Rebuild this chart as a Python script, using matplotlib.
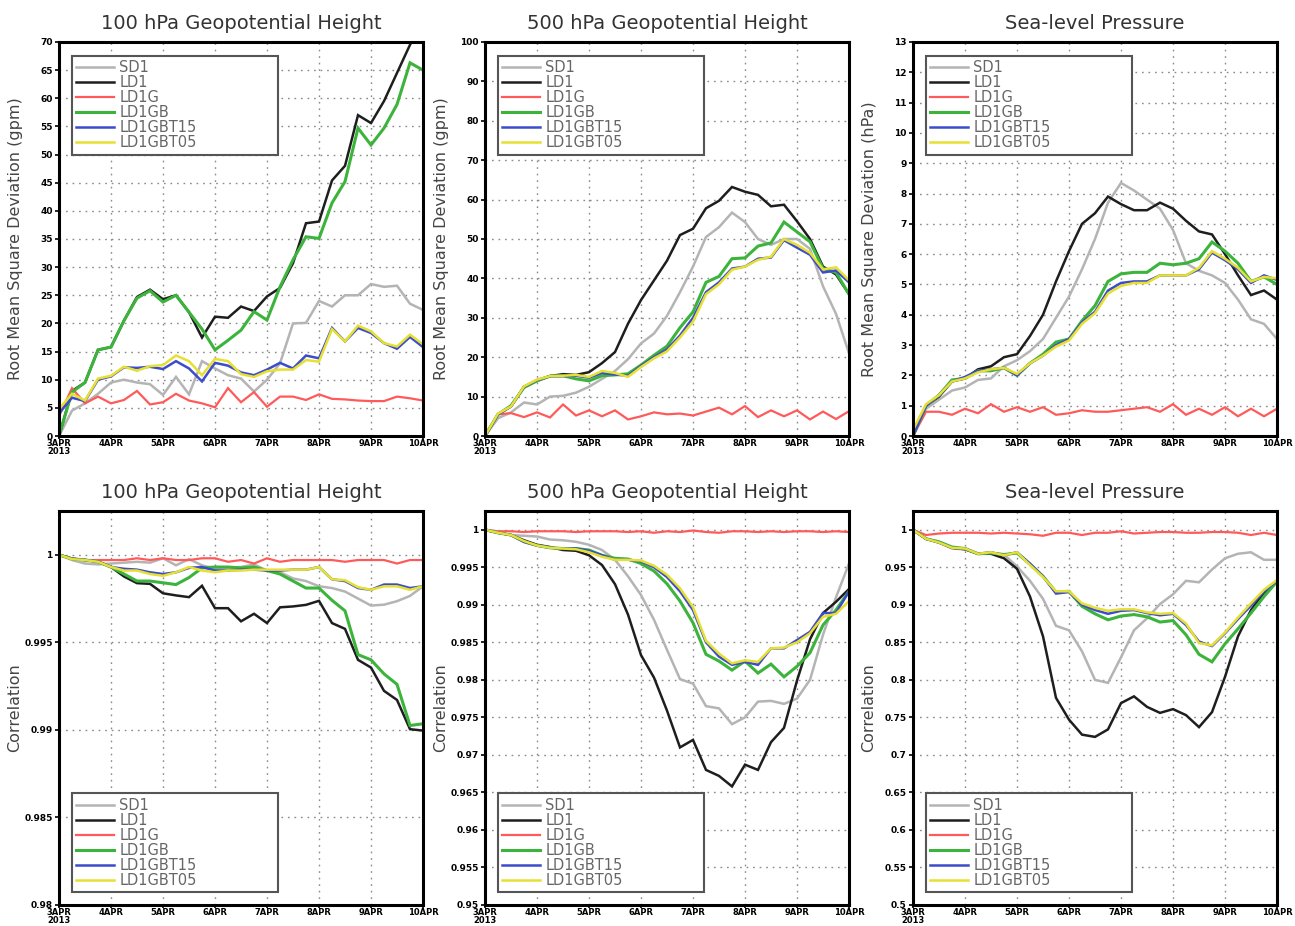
import numpy as np
import pandas as pd
import matplotlib
matplotlib.use("Agg")
import matplotlib.pyplot as plt
import matplotlib.dates as mdates
from matplotlib.ticker import FuncFormatter, MultipleLocator

# 6-hourly verification times, 3 Apr 00Z .. 10 Apr 00Z 2013
times = pd.date_range("2013-04-03 00:00", "2013-04-10 00:00", freq="6h")

experiments = ["SD1", "LD1", "LD1G", "LD1GB", "LD1GBT15", "LD1GBT05"]
colors = {"SD1": "#b4b4b4", "LD1": "#1e1e1e", "LD1G": "#ff5a5a",
          "LD1GB": "#3cb43c", "LD1GBT15": "#3c4ccc", "LD1GBT05": "#e6e032"}
widths = {"SD1": 1.8, "LD1": 1.8, "LD1G": 1.6, "LD1GB": 2.2,
          "LD1GBT15": 1.8, "LD1GBT05": 1.8}

# RMSD, 100 hPa geopotential height (gpm)
rms_z100 = {
    "SD1": [0, 4.5, 5.8, 7.5, 9.5, 10, 9.5, 9.2, 7.3, 10.5, 7.4, 13.3, 12, 10.8, 10.2,
            7.9, 10, 12.9, 20, 20.1, 24, 23, 25, 25, 27, 26.5, 26.7, 23.5, 22.4],
    "LD1": [0, 8, 9.5, 15.3, 15.8, 20.5, 24.7, 26, 24.3, 25, 22, 17.5, 21.2, 21, 23,
            22.2, 24.8, 26.3, 30.7, 37.8, 38.1, 45.4, 48, 57, 55.6, 59.5, 64.5, 69.5, 74],
    "LD1G": [3.5, 8.5, 5.8, 7, 5.8, 6.4, 8, 5.6, 6, 7.5, 6.3, 5.8, 5.1, 8.5, 6, 7.8,
             5.2, 7, 7, 6.4, 7.4, 6.6, 6.5, 6.3, 6.2, 6.2, 7, 6.7, 6.3],
    "LD1GB": [0, 7.8, 9.5, 15.3, 15.8, 20.5, 24.5, 25.8, 23.8, 25, 22, 19, 15.3, 17,
              18.8, 22.1, 20.6, 26.5, 31.3, 35.4, 35.1, 41.4, 45.2, 54.7, 51.7, 54.7,
              58.9, 66.3, 65],
    "LD1GBT15": [4, 6.8, 6.2, 10, 10.6, 12.2, 12.1, 12.3, 11.9, 13.3, 12, 9.7, 13, 12.5,
                 11.3, 10.8, 11.8, 13, 12, 14.3, 13.8, 19.2, 16.8, 19.2, 18.3, 16.5,
                 15.5, 17.6, 15.8],
    "LD1GBT05": [4.8, 7.5, 6.3, 10.2, 10.7, 12.3, 11.6, 12.4, 12.6, 14.3, 13.3, 10.8,
                 13.7, 13.3, 11.0, 10.5, 11.5, 11.8, 11.8, 13.5, 13.2, 19.0, 16.8, 19.6,
                 18.6, 16.5, 15.9, 18.0, 16.3],
}

# RMSD, 500 hPa geopotential height (gpm)
rms_z500 = {
    "SD1": [0, 4.5, 6, 8.5, 8, 10, 10.2, 11, 12.5, 14.5, 16.5, 19.5, 23.5, 26, 30.5,
            36.5, 43, 50.5, 53, 56.7, 54.3, 50, 48.5, 50, 50, 47.5, 38, 31, 21],
    "LD1": [0, 5.5, 7.5, 12.5, 14, 15.2, 15.7, 15.5, 16.2, 18.5, 21.3, 28.5, 34.5,
            39.5, 44.5, 51, 52.6, 57.8, 59.7, 63.2, 62, 61.2, 58.3, 58.7, 54.5, 50,
            43, 41, 36],
    "LD1G": [0, 5.5, 5.8, 4.8, 6, 4.7, 8, 5.2, 6.5, 5, 6.5, 4.2, 5, 6, 5.5, 5.7, 5.2,
             6.2, 7.2, 5.5, 7.6, 4.8, 6.5, 5, 6.5, 4.2, 6.2, 4.3, 6.3],
    "LD1GB": [0, 5.5, 7.7, 12.3, 14, 15.2, 15.3, 14.5, 14, 15.3, 15.5, 15.8, 18, 20.5,
              22.8, 27.5, 31.5, 39, 40.5, 45, 45.2, 48.2, 49, 54.3, 51.8, 49.3, 42.5,
              41.5, 36],
    "LD1GBT15": [0, 5.5, 7.5, 12.5, 14.2, 15.2, 15.2, 15.3, 14.8, 16, 15.6, 15.3, 17.8,
                 20, 22, 25.5, 30, 36.5, 39, 42.5, 43, 45, 45.3, 49.7, 47.8, 46, 41.5,
                 42, 39],
    "LD1GBT05": [0, 5.7, 7.5, 12.6, 14.3, 15.2, 15.3, 15.5, 15, 16.5, 16, 15, 17.5,
                 19.7, 21.5, 25, 29, 36, 38.5, 42.2, 43, 44.7, 45.5, 50, 48.5, 46.5,
                 42.3, 42.8, 39.5],
}

# RMSD, sea-level pressure (hPa)
rms_slp = {
    "SD1": [0.1, 0.9, 1.2, 1.5, 1.6, 1.85, 1.9, 2.3, 2.5, 2.8, 3.2, 3.9, 4.6, 5.5, 6.5,
            7.7, 8.35, 8.1, 7.8, 7.5, 6.8, 5.7, 5.45, 5.3, 5.05, 4.5, 3.85, 3.7, 3.2],
    "LD1": [0, 1.0, 1.3, 1.8, 1.9, 2.2, 2.3, 2.6, 2.7, 3.3, 4.0, 5.1, 6.1, 7.0, 7.35,
            7.9, 7.65, 7.45, 7.45, 7.7, 7.5, 7.1, 6.75, 6.65, 6.0, 5.3, 4.65, 4.8, 4.5],
    "LD1G": [0, 0.8, 0.8, 0.7, 0.9, 0.75, 1.05, 0.8, 0.95, 0.8, 0.95, 0.7, 0.75, 0.85,
             0.8, 0.8, 0.85, 0.9, 0.95, 0.8, 1.05, 0.7, 0.9, 0.7, 0.95, 0.65, 0.9, 0.65, 0.9],
    "LD1GB": [0, 1.0, 1.35, 1.85, 1.9, 2.15, 2.15, 2.25, 2.0, 2.4, 2.7, 3.1, 3.2, 3.8,
              4.3, 5.1, 5.35, 5.4, 5.4, 5.7, 5.65, 5.7, 5.85, 6.4, 6.1, 5.7, 5.1, 5.25, 5.0],
    "LD1GBT15": [0, 1.0, 1.35, 1.8, 1.95, 2.15, 2.2, 2.25, 2.0, 2.4, 2.65, 3.0, 3.2,
                 3.75, 4.1, 4.8, 5.05, 5.1, 5.1, 5.3, 5.3, 5.3, 5.5, 6.05, 5.8, 5.5,
                 5.05, 5.3, 5.15],
    "LD1GBT05": [0.2, 1.05, 1.35, 1.8, 1.9, 2.1, 2.2, 2.25, 2.05, 2.4, 2.65, 2.95,
                 3.15, 3.7, 4.05, 4.7, 4.95, 5.05, 5.05, 5.3, 5.3, 5.3, 5.55, 6.1, 5.85,
                 5.55, 5.1, 5.25, 5.2],
}

# anomaly correlation, 100 hPa geopotential height
cor_z100 = {
    "SD1": [1.0, 0.9997, 0.9995, 0.99945, 0.9995, 0.99955, 0.9996, 0.99955, 0.9998,
            0.9994, 0.99975, 0.9994, 0.9992, 0.99925, 0.9993, 0.99945, 0.9991, 0.9990,
            0.99865, 0.9985, 0.9982, 0.9981, 0.9979, 0.9975, 0.9971, 0.99715, 0.99735,
            0.99765, 0.9982],
    "LD1": [1.0, 0.99977, 0.99971, 0.9996, 0.9993, 0.99876, 0.99838, 0.99834, 0.9978,
            0.99768, 0.99758, 0.99823, 0.99695, 0.99695, 0.9962, 0.99663, 0.9961, 0.9970,
            0.99705, 0.99714, 0.99737, 0.9961, 0.99577, 0.9940, 0.99356, 0.99223,
            0.99171, 0.99004, 0.98996],
    "LD1G": [1.0, 0.9998, 0.9997, 0.9997, 0.9997, 0.9997, 0.9998, 0.9997, 0.9998,
             0.9997, 0.9997, 0.9998, 0.9998, 0.9996, 0.9997, 0.9995, 0.9998, 0.9996,
             0.9997, 0.9997, 0.9997, 0.9997, 0.9996, 0.9997, 0.9997, 0.9997, 0.9995,
             0.9997, 0.9997],
    "LD1GB": [1.0, 0.99977, 0.9997, 0.9996, 0.9993, 0.9989, 0.9985, 0.9985, 0.9984,
              0.9983, 0.9987, 0.99925, 0.9993, 0.9993, 0.99925, 0.9993, 0.9991, 0.9989,
              0.9985, 0.9981, 0.9981, 0.9974, 0.9968, 0.9943, 0.9940, 0.9932, 0.9926,
              0.99025, 0.99035],
    "LD1GBT15": [1.0, 0.99977, 0.9997, 0.99962, 0.9993, 0.9992, 0.99915, 0.9990, 0.9989,
                 0.9990, 0.99925, 0.9993, 0.9991, 0.9991, 0.99915, 0.99915, 0.9991,
                 0.9991, 0.99915, 0.99915, 0.9993, 0.9986, 0.9985, 0.9981, 0.9980,
                 0.9983, 0.9983, 0.9981, 0.9982],
    "LD1GBT05": [1.0, 0.99975, 0.9997, 0.9996, 0.9993, 0.9991, 0.9991, 0.9989, 0.9988,
                 0.9990, 0.9993, 0.9991, 0.9990, 0.9991, 0.9991, 0.99915, 0.99915,
                 0.99915, 0.99915, 0.99915, 0.9993, 0.9986, 0.99855, 0.99815, 0.9980,
                 0.9982, 0.9982, 0.9980, 0.9982],
}

# anomaly correlation, 500 hPa geopotential height
cor_z500 = {
    "SD1": [1.0, 0.9996, 0.9993, 0.9992, 0.9991, 0.9987, 0.9986, 0.9984, 0.9980,
            0.9973, 0.9960, 0.9938, 0.9913, 0.9880, 0.9840, 0.9801, 0.9795, 0.9765,
            0.9762, 0.9741, 0.9750, 0.9771, 0.9772, 0.9768, 0.9775, 0.9800, 0.9860,
            0.9910, 0.9955],
    "LD1": [1.0, 0.9996, 0.9993, 0.9986, 0.9980, 0.9977, 0.9973, 0.9972, 0.9966,
            0.9953, 0.99275, 0.9887, 0.9833, 0.9803, 0.9759, 0.9710, 0.9720, 0.9680,
            0.9672, 0.9658, 0.9687, 0.9680, 0.9717, 0.9736, 0.9799, 0.9854, 0.9889,
            0.9904, 0.9921],
    "LD1G": [1.0, 0.9998, 0.9998, 0.9997, 0.9998, 0.9998, 0.9998, 0.9997, 0.9998,
             0.9998, 0.9998, 0.9997, 0.9998, 0.9996, 0.9998, 0.9997, 0.9999, 0.9997,
             0.9996, 0.9998, 0.9998, 0.9997, 0.9998, 0.9997, 0.9998, 0.9998, 0.9997,
             0.9998, 0.9997],
    "LD1GB": [1.0, 0.9996, 0.9993, 0.9984, 0.9979, 0.9976, 0.9975, 0.9975, 0.9973,
              0.9966, 0.9962, 0.9961, 0.9955, 0.9945, 0.9928, 0.9905, 0.9876, 0.9834,
              0.9825, 0.9813, 0.9825, 0.9809, 0.9821, 0.9804, 0.9818, 0.9836, 0.9873,
              0.9893, 0.9918],
    "LD1GBT15": [1.0, 0.9996, 0.9993, 0.9984, 0.9979, 0.9976, 0.9975, 0.9975, 0.9972,
                 0.9966, 0.9960, 0.9960, 0.9958, 0.9950, 0.9937, 0.9918, 0.9893, 0.9850,
                 0.9831, 0.9820, 0.9824, 0.9820, 0.9842, 0.9842, 0.9853, 0.9864, 0.9889,
                 0.9889, 0.9918],
    "LD1GBT05": [1.0, 0.9996, 0.9993, 0.9985, 0.9979, 0.9976, 0.9975, 0.9974, 0.9970,
                 0.9964, 0.9960, 0.9960, 0.9959, 0.9952, 0.9940, 0.9922, 0.9897, 0.9852,
                 0.9835, 0.9822, 0.9826, 0.9824, 0.9842, 0.9843, 0.9850, 0.9862, 0.9884,
                 0.9888, 0.9905],
}

# anomaly correlation, sea-level pressure
cor_slp = {
    "SD1": [1.0, 0.988, 0.983, 0.975, 0.974, 0.968, 0.968, 0.967, 0.951, 0.932, 0.908,
            0.872, 0.866, 0.838, 0.800, 0.796, 0.830, 0.866, 0.882, 0.901, 0.914, 0.932,
            0.930, 0.947, 0.962, 0.968, 0.970, 0.960, 0.960],
    "LD1": [1.0, 0.988, 0.983, 0.976, 0.974, 0.968, 0.968, 0.962, 0.948, 0.911, 0.858,
            0.776, 0.747, 0.727, 0.724, 0.734, 0.769, 0.778, 0.764, 0.756, 0.761, 0.753,
            0.737, 0.757, 0.804, 0.858, 0.893, 0.916, 0.931],
    "LD1G": [1.0, 0.993, 0.995, 0.996, 0.996, 0.996, 0.995, 0.996, 0.995, 0.994, 0.992,
             0.996, 0.996, 0.993, 0.996, 0.996, 0.998, 0.995, 0.996, 0.997, 0.997, 0.996,
             0.996, 0.997, 0.997, 0.996, 0.993, 0.996, 0.993],
    "LD1GB": [1.0, 0.988, 0.984, 0.977, 0.975, 0.968, 0.969, 0.967, 0.969, 0.954, 0.938,
              0.917, 0.918, 0.898, 0.888, 0.880, 0.885, 0.887, 0.884, 0.877, 0.879, 0.860,
              0.834, 0.824, 0.848, 0.868, 0.889, 0.911, 0.931],
    "LD1GBT15": [1.0, 0.988, 0.983, 0.976, 0.975, 0.968, 0.970, 0.966, 0.970, 0.955,
                 0.938, 0.915, 0.917, 0.900, 0.893, 0.888, 0.892, 0.893, 0.889, 0.886,
                 0.888, 0.873, 0.851, 0.845, 0.862, 0.881, 0.899, 0.918, 0.932],
    "LD1GBT05": [1.0, 0.988, 0.983, 0.976, 0.975, 0.968, 0.970, 0.966, 0.970, 0.953,
                 0.937, 0.918, 0.918, 0.902, 0.896, 0.892, 0.894, 0.894, 0.890, 0.888,
                 0.889, 0.875, 0.849, 0.846, 0.863, 0.883, 0.902, 0.920, 0.933],
}

titles = ["100 hPa Geopotential Height", "500 hPa Geopotential Height", "Sea-level Pressure"]

# panel: data, ylim, tick step, y label
panels = [
    (rms_z100, (0, 70), 5, "Root Mean Square Deviation (gpm)"),
    (rms_z500, (0, 100), 10, "Root Mean Square Deviation (gpm)"),
    (rms_slp, (0, 13), 1, "Root Mean Square Deviation (hPa)"),
    (cor_z100, (0.98, 1.0025), 0.005, "Correlation"),
    (cor_z500, (0.95, 1.0025), 0.005, "Correlation"),
    (cor_slp, (0.5, 1.025), 0.05, "Correlation"),
]

lefts = [59 / 1295, 485 / 1295, 913 / 1295]
bottoms = [1 - 436 / 926, 1 - 905 / 926]
w, h = 364 / 1295, 394 / 926


def day_label(x, pos):
    d = mdates.num2date(x)
    if d.day == 3:
        return "3APR\n2013"
    return f"{d.day}APR"


fig = plt.figure(figsize=(12.95, 9.26), dpi=100)

for k, (data, ylim, step, ylabel) in enumerate(panels):
    row, col = divmod(k, 3)
    ax = fig.add_axes([lefts[col], bottoms[row], w, h])
    for name in experiments:
        ax.plot(times, data[name], color=colors[name], lw=widths[name],
                label=name, solid_joinstyle="miter")

    ax.set_xlim(times[0], times[-1])
    ax.set_ylim(*ylim)
    ax.xaxis.set_major_locator(mdates.DayLocator())
    ax.xaxis.set_major_formatter(FuncFormatter(day_label))
    ax.yaxis.set_major_locator(MultipleLocator(step))
    ax.yaxis.set_major_formatter(FuncFormatter(lambda v, p: f"{round(v, 4):g}"))

    ax.grid(True, color="#8a8a8a", linestyle=(0, (1.2, 3.5)), lw=1.0)
    ax.tick_params(axis="y", labelsize=6.5, length=3, width=1.2, pad=1.5)
    ax.tick_params(axis="x", labelsize=6, length=2, width=1.2, pad=0.5)
    for lab in ax.get_yticklabels():
        lab.set_fontweight("bold")
    for lab in ax.get_xticklabels():
        lab.set_fontweight("bold")
        lab.set_linespacing(0.85)
    for sp in ax.spines.values():
        sp.set_linewidth(2.2)
        sp.set_color("black")

    ax.set_title(titles[col], fontsize=14, color="#333333", pad=9)
    ax.set_ylabel(ylabel, fontsize=11.5, color="#444444")
    ax.yaxis.set_label_coords(-0.1, 0.5)

    if row == 0:
        anchor, loc = (0.035, 0.70, 0.566, 0.265), "upper left"
    else:
        anchor, loc = (0.035, 0.033, 0.566, 0.255), "lower left"
    leg = ax.legend(loc=loc, bbox_to_anchor=anchor, mode="expand", fontsize=10.5,
                    labelspacing=0.0, handlelength=2.6, handletextpad=0.35,
                    borderpad=0.3, borderaxespad=0, fancybox=False, framealpha=1,
                    edgecolor="#555555", labelcolor="#666666")
    leg.get_frame().set_linewidth(1.5)

fig.savefig("out.png", dpi=100)
